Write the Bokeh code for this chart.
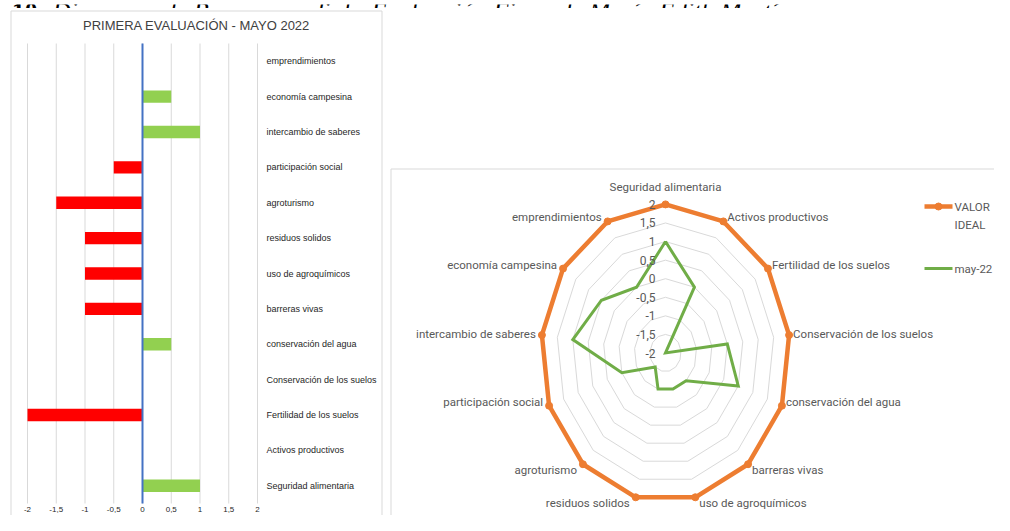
import math
from bokeh.plotting import figure
from bokeh.models import Range1d
from bokeh.layouts import column, row
from bokeh.core.properties import value
from bokeh.embed import file_html
from bokeh.resources import INLINE

# ---------------- data ----------------
caption_bold = "a 10"
caption_italic = " - Diagrama de Barras y radial - Evaluación Finca de María Edith Martínez"
bar_title = "PRIMERA EVALUACIÓN - MAYO 2022"

categories = [
    "Seguridad alimentaria", "Activos productivos", "Fertilidad de los suelos",
    "Conservación de los suelos", "conservación del agua", "barreras vivas",
    "uso de agroquímicos", "residuos solidos", "agroturismo",
    "participación social", "intercambio de saberes", "economía campesina",
    "emprendimientos",
]
may22 = [1, 0, -2, 0, 0.5, -1, -1, -1, -1.5, -0.5, 1, 0.5, 0]
valor_ideal = [2, 2, 2, 2, 2, 2, 2, 2, 2, 2, 2, 2, 2]
bar_ticks = [-2, -1.5, -1, -0.5, 0, 0.5, 1, 1.5, 2]
bar_tick_labels = ["-2", "-1,5", "-1", "-0,5", "0", "0,5", "1", "1,5", "2"]
radar_levels = [-2, -1.5, -1, -0.5, 0, 0.5, 1, 1.5, 2]
radar_level_labels = ["-2", "-1,5", "-1", "-0,5", "0", "0,5", "1", "1,5", "2"]
series_names = ["VALOR IDEAL", "may-22"]

# ---------------- styles ----------------
RED = "#FF0000"
LIME = "#92D050"
BLUE = "#4472C4"
ORANGE = "#ED7D31"
GREEN = "#70AD47"
GRID = "#D9D9D9"
GRAY_TXT = "#595959"
DARK = "#262626"
SANS = value("Liberation Sans")
RADAR_FONT = value("Roboto")
SERIF = value("Liberation Serif")

N = len(categories)
PAGE_W = 994
CAP_H = 8
FIG_TOP, FIG_BOTTOM = CAP_H, 515
FIG_H = FIG_BOTTOM - FIG_TOP


def base_fig(w, h, xr, yr):
    return figure(width=w, height=h, x_range=xr, y_range=yr,
                  x_axis_type=None, y_axis_type=None,
                  toolbar_location=None, output_backend="svg",
                  min_border=0, outline_line_color=None,
                  background_fill_color="white", border_fill_color="white")


# ---------------- caption strip (cut at the top, as in the source) ----------------
cap = base_fig(PAGE_W, CAP_H, Range1d(0, PAGE_W), Range1d(CAP_H, 0))
cap.text(x=[37], y=[6.5], text=[caption_bold], text_align="right",
         text_baseline="alphabetic", text_font=SERIF, text_font_style="bold",
         text_font_size="25.4px", text_color="black")
cap.text(x=[37], y=[6.5], text=[caption_italic], text_align="left",
         text_baseline="alphabetic", text_font=SERIF, text_font_style="italic",
         text_font_size="25.4px", text_color="black")

# ---------------- left: bar chart ----------------
LEFT_W = 386
X_AT_MIN, PX_PER_X = 27.0, 57.5
Y_PLOT_TOP, Y_PLOT_BOTTOM = 43.0, 503.0
PX_PER_CAT = (Y_PLOT_BOTTOM - Y_PLOT_TOP) / N


def lx(sx):
    return bar_ticks[0] + (sx - X_AT_MIN) / PX_PER_X


def ly(sy):
    return (sy - Y_PLOT_TOP) / PX_PER_CAT


left = base_fig(LEFT_W, FIG_H,
                Range1d(lx(0), lx(LEFT_W)),
                Range1d(ly(FIG_BOTTOM), ly(FIG_TOP)))

left.quad(left=[lx(10.5)], right=[lx(381.5)], top=[ly(10.5)], bottom=[ly(700)],
          fill_color=None, line_color=GRID, line_width=1)
left.text(x=[lx(196)], y=[ly(25)], text=[bar_title], text_align="center",
          text_baseline="middle", text_font=SANS, text_font_size="13px",
          text_color="#404040")

left.segment(x0=bar_ticks, y0=[0] * len(bar_ticks), x1=bar_ticks, y1=[N] * len(bar_ticks),
             line_color=GRID, line_width=1)

ys = [N - 0.5 - i for i in range(N)]
left.hbar(y=ys, left=[min(0, v) for v in may22], right=[max(0, v) for v in may22],
          height=0.35, fill_color=[LIME if v > 0 else RED for v in may22], line_color=None)
left.segment(x0=[0], y0=[0], x1=[0], y1=[N], line_color=BLUE, line_width=2)

left.text(x=[lx(266)] * N, y=ys, text=categories, text_align="left",
          text_baseline="middle", text_font=SANS, text_font_size="9px",
          text_color=DARK)
left.text(x=bar_ticks, y=[ly(Y_PLOT_BOTTOM + 6)] * len(bar_ticks), text=bar_tick_labels,
          text_align="center", text_baseline="middle", text_font=SANS,
          text_font_size="8px", text_color=DARK)

# ---------------- right: radar chart ----------------
RIGHT_W = PAGE_W - LEFT_W
CX, CY = 665.0, 352.5
PX_RX, PX_RY = 124.5 / 4, 148.6 / 4
RMIN = radar_levels[0]


def rxs(sx):
    return (sx - CX) / PX_RX


def rys(sy):
    return (CY - sy) / PX_RY


radar = base_fig(RIGHT_W, FIG_H,
                 Range1d(rxs(LEFT_W), rxs(PAGE_W)),
                 Range1d(rys(FIG_BOTTOM), rys(FIG_TOP)))

radar.quad(left=[rxs(390.5)], right=[rxs(1200)], top=[rys(168.5)], bottom=[rys(800)],
           fill_color=None, line_color=GRID, line_width=1)

angles = [2 * math.pi * k / N for k in range(N)]


def polar(vals):
    xs = [(v - RMIN) * math.sin(a) for v, a in zip(vals, angles)]
    ys_ = [(v - RMIN) * math.cos(a) for v, a in zip(vals, angles)]
    return xs, ys_


ring_xs, ring_ys = [], []
for lvl in radar_levels[1:]:
    xs, yy = polar([lvl] * N)
    ring_xs.append(xs + xs[:1])
    ring_ys.append(yy + yy[:1])
radar.multi_line(xs=ring_xs, ys=ring_ys, line_color=GRID, line_width=1)

ox, oy = polar(valor_ideal)
radar.line(ox + ox[:1], oy + oy[:1], line_color=ORANGE, line_width=4.5, line_join="round")
radar.scatter(ox, oy, size=7, fill_color=ORANGE, line_color=ORANGE)

gx, gy = polar(may22)
radar.line(gx + gx[:1], gy + gy[:1], line_color=GREEN, line_width=3, line_join="miter")

radar.text(x=[rxs(655)] * len(radar_levels), y=[l - RMIN for l in radar_levels],
           text=radar_level_labels, text_align="right", text_baseline="middle",
           text_font=RADAR_FONT, text_font_size="12px", text_color=GRAY_TXT)

# category labels around the outer ring
lab_x, lab_y, lab_align = [], [], []
outer = radar_levels[-1] - RMIN
for a in angles:
    s, c = math.sin(a), math.cos(a)
    vx, vy = outer * s, outer * c
    if abs(s) < 1e-6:
        dx, dy, al = 0, 17, "center"
    else:
        dx = 4 if s > 0 else -6
        al = "left" if s > 0 else "right"
        if c < -0.5:
            dy = -6
        elif abs(c) < 0.2:
            dy = 1
        else:
            dy = 4
    lab_x.append(vx + dx / PX_RX)
    lab_y.append(vy + dy / PX_RY)
    lab_align.append(al)
radar.text(x=lab_x, y=lab_y, text=categories, text_align=lab_align,
           text_baseline="middle", text_font=RADAR_FONT, text_font_size="11.5px",
           text_color=GRAY_TXT)

# legend (kept inside the page width)
LEG_X0 = 924
radar.line([rxs(LEG_X0), rxs(LEG_X0 + 28)], [rys(206)] * 2, line_color=ORANGE, line_width=4.5)
radar.scatter([rxs(LEG_X0 + 14)], [rys(206)], size=7, fill_color=ORANGE, line_color=ORANGE)
radar.line([rxs(LEG_X0), rxs(LEG_X0 + 28)], [rys(268)] * 2, line_color=GREEN, line_width=3)
leg_words = series_names[0].split()
radar.text(x=[rxs(LEG_X0 + 30)] * 3, y=[rys(206), rys(224), rys(268)],
           text=leg_words + [series_names[1]], text_align="left",
           text_baseline="middle", text_font=RADAR_FONT, text_font_size="11.5px",
           text_color=GRAY_TXT)

layout = column(cap, row(left, radar, spacing=0), spacing=0)
open("out.html", "w").write(file_html(layout, INLINE))
